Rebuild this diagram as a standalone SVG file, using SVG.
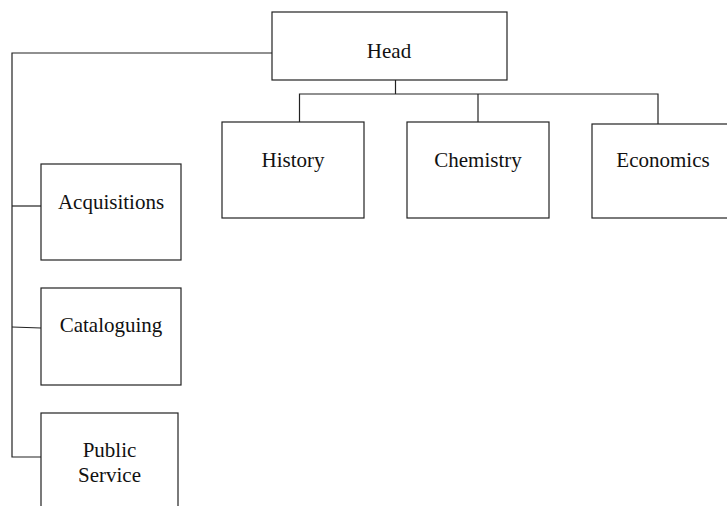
<svg xmlns="http://www.w3.org/2000/svg" width="727" height="506" viewBox="0 0 727 506">
<style>
.box{fill:#fff;stroke:#222;stroke-width:1.2}
.lbl{font-family:"Liberation Serif","Times New Roman",serif;font-size:21px;fill:#111;text-anchor:middle}
.conn{fill:none;stroke:#222;stroke-width:1.2}
</style>
<rect width="727" height="506" fill="#fff"/>
<g id="connectors">
<polyline class="conn" points="272,53 12,53 12,457 41,457"/>
<line class="conn" x1="12" y1="206" x2="41" y2="206"/>
<line class="conn" x1="12" y1="327" x2="41" y2="328"/>
<line class="conn" x1="395.5" y1="80" x2="395.5" y2="94"/>
<polyline class="conn" points="299.5,122 299.5,94 658,94 658,124"/>
<line class="conn" x1="478" y1="94" x2="478" y2="122"/>
</g>
<g id="head"><rect class="box" x="272" y="12" width="235" height="68"/><text class="lbl" x="389" y="58">Head</text></g>
<g id="history"><rect class="box" x="222" y="122" width="142" height="96"/><text class="lbl" x="293" y="167">History</text></g>
<g id="chemistry"><rect class="box" x="407" y="122" width="142" height="96"/><text class="lbl" x="478" y="167">Chemistry</text></g>
<g id="economics"><rect class="box" x="592" y="124" width="145" height="94"/><text class="lbl" x="663" y="167">Economics</text></g>
<g id="acquisitions"><rect class="box" x="41" y="164" width="140" height="96"/><text class="lbl" x="111" y="209">Acquisitions</text></g>
<g id="cataloguing"><rect class="box" x="41" y="288" width="140" height="97"/><text class="lbl" x="111" y="332">Cataloguing</text></g>
<g id="public-service"><rect class="box" x="41" y="413" width="137" height="110"/><text class="lbl" x="109.5" y="457">Public</text><text class="lbl" x="109.5" y="482">Service</text></g>
</svg>
